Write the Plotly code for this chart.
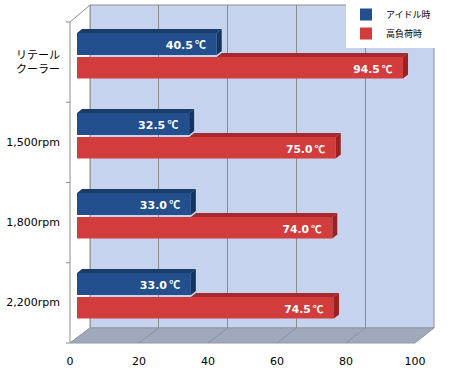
import plotly.graph_objects as go

# ---- data ----
categories = ["リテール<br>クーラー", "1,500rpm", "1,800rpm", "2,200rpm"]
idle_vals = [40.5, 32.5, 33.0, 33.0]
load_vals = [94.5, 75.0, 74.0, 74.5]
series_names = ["アイドル時", "高負荷時"]
x_ticks = [0, 20, 40, 60, 80, 100]

W, H = 450, 380
def px(x): return x / W
def py(y): return 1 - y / H

# geometry (pixels)
BACK_L, BACK_R, BACK_T, BACK_B = 90, 434, 5, 328
FRONT_L, FRONT_R, FRONT_T, FRONT_B = 70, 415, 22, 343
BAR_L, BAR_R, BAR_T, BAR_B = 77, 422, 17, 337

XMAX = 100.0
n = len(categories)
idx = list(range(n))

# bar depth offsets in data units
DX = 5 * XMAX / (BAR_R - BAR_L)
DY = -4 * n / (BAR_B - BAR_T)

BLUE_OFF, BLUE_W = -0.30, 0.275
RED_OFF, RED_W = 0.0, 0.27

blue_front, blue_top, blue_side = "#23508c", "#1a3d6c", "#16355e"
red_front, red_top, red_side = "#d23c3c", "#a82a2a", "#982222"

fig = go.Figure()

# empty trace for back wall subplot
fig.add_trace(go.Scatter(x=[], y=[], xaxis="x", yaxis="y", showlegend=False, hoverinfo="skip"))

label_font = dict(family="DejaVu Sans", size=11, color="white", weight="bold")
tmpl = "%{x:.1f}\u2009<span style='font-family:Noto Sans CJK JP'>℃</span>\u00a0\u00a0"
fig.add_trace(go.Bar(
    name=series_names[0], y=idx, x=idle_vals, orientation="h",
    offset=BLUE_OFF, width=BLUE_W, marker=dict(color=blue_front, line=dict(width=0)),
    texttemplate=tmpl, textposition="inside", insidetextanchor="end",
    insidetextfont=label_font, xaxis="x2", yaxis="y2", cliponaxis=False))
fig.add_trace(go.Bar(
    name=series_names[1], y=idx, x=load_vals, orientation="h",
    offset=RED_OFF, width=RED_W, marker=dict(color=red_front, line=dict(width=0)),
    texttemplate=tmpl, textposition="inside", insidetextanchor="end",
    insidetextfont=label_font, xaxis="x2", yaxis="y2", cliponaxis=False))

def faces(vals, off, w, clip_start=None):
    tx, ty, sx, sy = [], [], [], []
    for i, v in enumerate(vals):
        a = i + off
        b = a + w
        x0 = 0 if clip_start is None else clip_start[i]
        tx += [x0, v, v + DX, x0 + DX, x0, None]
        ty += [a, a, a + DY, a + DY, a, None]
        sx += [v, v + DX, v + DX, v, v, None]
        sy += [a, a + DY, b + DY, b, a, None]
    return tx, ty, sx, sy

rtx, rty, rsx, rsy = faces(load_vals, RED_OFF, RED_W, clip_start=idle_vals)
btx, bty, bsx, bsy = faces(idle_vals, BLUE_OFF, BLUE_W)
for xs, ys, col in [(rtx, rty, red_top), (rsx, rsy, red_side), (btx, bty, blue_top), (bsx, bsy, blue_side)]:
    fig.add_trace(go.Scatter(x=xs, y=ys, fill="toself", fillcolor=col, mode="lines",
                             line=dict(width=0, color=col), showlegend=False, hoverinfo="skip",
                             xaxis="x2", yaxis="y2", cliponaxis=False))

shapes = []
grid_col = "#8c8c8c"
# back wall
shapes.append(dict(type="rect", xref="paper", yref="paper", layer="below",
                   x0=px(BACK_L), x1=px(BACK_R), y0=py(BACK_B), y1=py(BACK_T),
                   fillcolor="#c6d3ee", line=dict(color=grid_col, width=1)))
# left wall
shapes.append(dict(type="path", xref="paper", yref="paper", layer="below",
                   path=f"M {px(FRONT_L)},{py(FRONT_T)} L {px(BACK_L)},{py(BACK_T)} L {px(BACK_L)},{py(BACK_B)} L {px(FRONT_L)},{py(FRONT_B)} Z",
                   fillcolor="white", line=dict(color=grid_col, width=1)))
# floor
shapes.append(dict(type="path", xref="paper", yref="paper", layer="below",
                   path=f"M {px(FRONT_L)},{py(FRONT_B)} L {px(BACK_L)},{py(BACK_B)} L {px(BACK_R)},{py(BACK_B)} L {px(FRONT_R)},{py(FRONT_B)} Z",
                   fillcolor="#a0a8bc", line=dict(color="#9098ac", width=1)))
# floor grid lines
for t in x_ticks[1:-1]:
    xb = BACK_L + (BACK_R - BACK_L) * t / XMAX
    xf = FRONT_L + (FRONT_R - FRONT_L) * t / XMAX
    shapes.append(dict(type="line", xref="paper", yref="paper", layer="below",
                       x0=px(xb), y0=py(BACK_B), x1=px(xf), y1=py(FRONT_B),
                       line=dict(color="#8a90a0", width=1)))
# category tick marks on left front edge
for k in range(n + 1):
    yy = FRONT_T + (FRONT_B - FRONT_T) * k / n
    shapes.append(dict(type="line", xref="paper", yref="paper", layer="below",
                       x0=px(FRONT_L - 4), x1=px(FRONT_L), y0=py(yy), y1=py(yy),
                       line=dict(color=grid_col, width=1)))

fig.update_layout(
    width=W, height=H, margin=dict(l=0, r=0, t=0, b=0, autoexpand=False),
    paper_bgcolor="white", plot_bgcolor="rgba(0,0,0,0)",
    barmode="overlay", shapes=shapes, hovermode=False,
    font=dict(family="DejaVu Sans, Noto Sans CJK JP", size=11, color="black"),
    xaxis=dict(domain=[px(BACK_L), px(BACK_R)], range=[0, XMAX], tickvals=x_ticks,
               showgrid=True, gridcolor=grid_col, gridwidth=1, showticklabels=False,
               zeroline=False, showline=False, ticks="", anchor="y", automargin=False),
    yaxis=dict(domain=[py(BACK_B), py(BACK_T)], range=[0, 1], showgrid=False,
               showticklabels=False, zeroline=False, showline=False, ticks="", anchor="x",
               automargin=False),
    xaxis2=dict(domain=[px(BAR_L), px(BAR_R)], range=[0, XMAX], tickvals=x_ticks,
                showgrid=False, zeroline=False, showline=False, ticks="", anchor="y2",
                ticklabelshift=-7, ticklabelstandoff=16, automargin=False,
                tickfont=dict(family="DejaVu Sans", size=11, color="black")),
    yaxis2=dict(domain=[py(BAR_B), py(BAR_T)], range=[n - 0.5, -0.5],
                tickvals=idx, ticktext=categories, showgrid=False, zeroline=False,
                showline=False, ticks="", anchor="x2", ticklabelstandoff=16, ticklabelshift=-5,
                automargin=False,
                tickfont=dict(family="DejaVu Sans, Noto Sans CJK JP", size=11, color="black")),
    legend=dict(x=px(346), y=1, xanchor="left", yanchor="top", bgcolor="white",
                font=dict(family="Noto Sans CJK JP", size=9, color="black"),
                traceorder="normal", itemwidth=30, borderwidth=0),
)

fig.write_html("out.html", config={"displayModeBar": False, "staticPlot": True},
               post_script="document.body.style.margin='0';")
